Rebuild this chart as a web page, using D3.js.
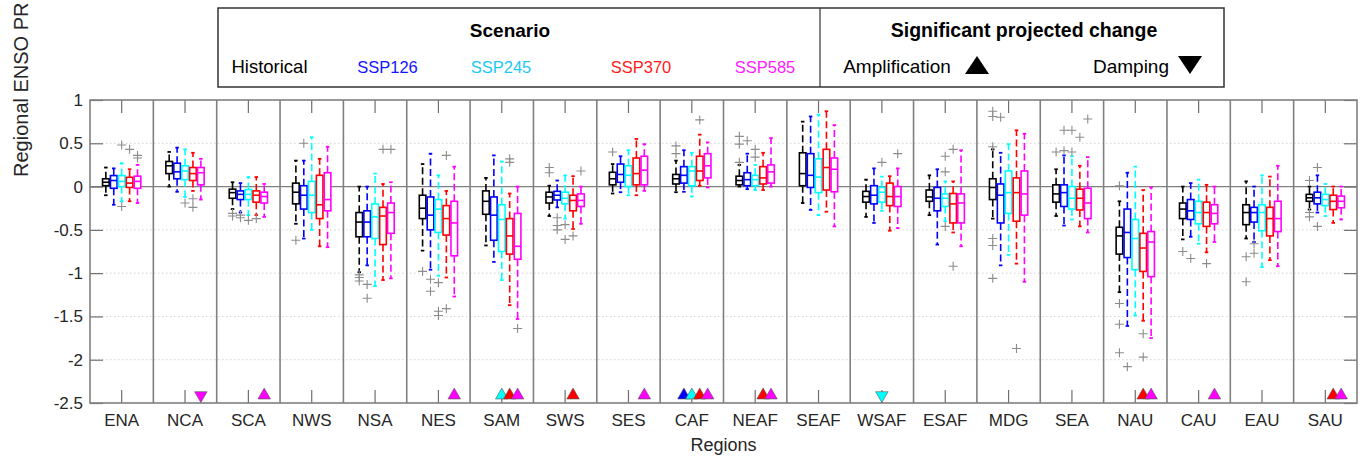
<!DOCTYPE html>
<html><head><meta charset="utf-8">
<script src="https://cdn.jsdelivr.net/npm/d3@7"></script>
<style>
html,body{margin:0;padding:0;background:#fff;}
svg{display:block;font-family:"Liberation Sans",Arial,sans-serif;}
</style></head>
<body><svg id="c" width="1364" height="459"></svg>
<script>
const regions = ["ENA","NCA","SCA","NWS","NSA","NES","SAM","SWS","SES","CAF","NEAF","SEAF","WSAF","ESAF","MDG","SEA","NAU","CAU","EAU","SAU"];
const scenarios = ["Historical","SSP126","SSP245","SSP370","SSP585"];
const boxColors = ["#000000","#0000ff","#00ffff","#ff0000","#ff00ff"];
const legendColors = ["#000000","#1414ff","#1ec8f5","#ff1a1a","#ff1aff"];
const yTicks = [1,0.5,0,-0.5,-1,-1.5,-2,-2.5];

// [lower whisker, q1, median, q3, upper whisker] per region
const histStats = [[-0.10,0.01,0.05,0.09,0.22],[0.0,0.15,0.24,0.29,0.40],[-0.26,-0.135,-0.07,-0.03,0.05],[-0.43,-0.20,-0.065,0.04,0.30],[-0.99,-0.58,-0.41,-0.30,0.0],[-0.74,-0.37,-0.25,-0.10,0.26],[-0.68,-0.32,-0.17,-0.05,0.10],[-0.34,-0.19,-0.12,-0.065,0.01],[-0.08,0.02,0.09,0.165,0.26],[-0.065,0.03,0.09,0.14,0.30],[0.0,0.02,0.07,0.12,0.25],[-0.19,0.01,0.15,0.39,0.75],[-0.35,-0.18,-0.115,-0.055,0.08],[-0.33,-0.17,-0.12,-0.04,0.13],[-0.37,-0.15,-0.01,0.09,0.43],[-0.34,-0.18,-0.085,0.02,0.20],[-1.22,-0.78,-0.57,-0.47,-0.17],[-0.61,-0.37,-0.26,-0.19,0.0],[-0.60,-0.44,-0.30,-0.21,0.06],[-0.265,-0.17,-0.13,-0.09,0.0]];
const ssp126Stats = [[-0.21,-0.02,0.07,0.127,0.21],[-0.06,0.09,0.17,0.27,0.45],[-0.30,-0.15,-0.09,-0.05,0.04],[-0.60,-0.26,-0.10,0.01,0.30],[-0.91,-0.58,-0.41,-0.28,0.0],[-0.96,-0.50,-0.33,-0.12,0.38],[-0.87,-0.62,-0.33,-0.12,0.36],[-0.24,-0.155,-0.10,-0.055,0.07],[-0.065,0.05,0.14,0.26,0.35],[-0.06,0.04,0.13,0.23,0.42],[-0.03,0.01,0.08,0.16,0.38],[-0.27,-0.01,0.13,0.38,0.81],[-0.42,-0.20,-0.10,0.01,0.21],[-0.67,-0.28,-0.135,-0.01,0.20],[-0.91,-0.42,-0.10,0.03,0.39],[-0.45,-0.23,-0.07,0.02,0.36],[-1.61,-0.82,-0.53,-0.26,0.16],[-0.58,-0.38,-0.28,-0.15,0.04],[-0.64,-0.41,-0.30,-0.24,0.0],[-0.30,-0.20,-0.13,-0.065,0.13]];
const ssp245Stats = [[-0.17,0.0,0.06,0.127,0.27],[-0.12,0.08,0.18,0.24,0.43],[-0.33,-0.15,-0.09,-0.035,0.11],[-0.50,-0.30,-0.10,0.06,0.57],[-1.15,-0.60,-0.35,-0.20,0.15],[-1.03,-0.53,-0.26,-0.15,0.13],[-1.08,-0.75,-0.38,-0.21,0.29],[-0.37,-0.20,-0.135,-0.065,0.13],[-0.10,0.0,0.13,0.24,0.42],[-0.115,0.01,0.18,0.23,0.39],[-0.04,0.01,0.08,0.13,0.25],[-0.33,-0.07,0.11,0.32,0.83],[-0.28,-0.18,-0.065,-0.01,0.115],[-0.40,-0.23,-0.135,-0.085,0.06],[-0.79,-0.31,-0.07,0.18,0.49],[-0.38,-0.26,-0.135,0.0,0.35],[-1.49,-0.96,-0.60,-0.38,0.23],[-0.66,-0.43,-0.30,-0.17,0.08],[-0.93,-0.51,-0.30,-0.21,0.13],[-0.34,-0.22,-0.15,-0.09,0.03]];
const ssp370Stats = [[-0.17,-0.01,0.04,0.107,0.20],[-0.05,0.07,0.15,0.22,0.39],[-0.33,-0.18,-0.10,-0.05,0.11],[-0.69,-0.37,-0.21,0.13,0.32],[-1.08,-0.67,-0.34,-0.24,0.03],[-1.05,-0.56,-0.37,-0.22,-0.05],[-1.37,-0.78,-0.57,-0.37,-0.08],[-0.49,-0.28,-0.16,-0.10,0.12],[-0.10,0.02,0.15,0.33,0.55],[0.01,0.07,0.18,0.35,0.60],[-0.04,0.03,0.10,0.23,0.39],[-0.29,-0.04,0.22,0.43,0.87],[-0.51,-0.22,-0.115,0.04,0.12],[-0.53,-0.42,-0.20,-0.08,0.06],[-0.89,-0.40,-0.07,0.10,0.65],[-0.46,-0.27,-0.135,-0.03,0.24],[-1.55,-0.98,-0.71,-0.54,-0.04],[-0.76,-0.46,-0.30,-0.18,0.02],[-0.85,-0.57,-0.37,-0.24,0.115],[-0.42,-0.265,-0.17,-0.10,0.0]];
const ssp585Stats = [[-0.19,-0.02,0.06,0.12,0.25],[-0.15,0.02,0.16,0.22,0.32],[-0.35,-0.19,-0.115,-0.065,0.03],[-0.70,-0.28,-0.15,0.16,0.46],[-1.06,-0.54,-0.30,-0.19,0.05],[-1.27,-0.80,-0.42,-0.17,0.23],[-1.53,-0.84,-0.69,-0.31,0.0],[-0.43,-0.23,-0.16,-0.085,0.0],[-0.05,0.02,0.19,0.35,0.49],[-0.01,0.10,0.24,0.38,0.51],[0.0,0.04,0.17,0.25,0.56],[-0.46,-0.06,0.20,0.33,0.71],[-0.48,-0.23,-0.115,0.0,0.21],[-0.69,-0.42,-0.19,-0.085,0.42],[-1.10,-0.33,-0.085,0.18,0.61],[-0.53,-0.37,-0.19,-0.02,0.34],[-1.75,-1.04,-0.64,-0.52,-0.01],[-0.64,-0.43,-0.31,-0.21,0.0],[-0.92,-0.52,-0.37,-0.17,0.24],[-0.38,-0.245,-0.17,-0.11,0.0]];

// outliers: [region, value]
const histOut = [["SCA",-0.31],["SCA",-0.34],["NWS",-0.62],["NSA",-1.02],["NSA",-1.05],["NSA",-1.09],["NES",-0.98],["SWS",0.22],["SWS",0.16],["SES",0.40],["CAF",0.47],["CAF",0.38],["NEAF",0.58],["NEAF",0.49],["NEAF",0.28],["MDG",0.87],["MDG",0.81],["MDG",0.46],["MDG",-0.60],["MDG",-0.68],["MDG",-1.06],["SEA",0.40],["NAU",0.01],["NAU",-1.35],["NAU",-1.59],["NAU",-1.92],["CAU",-0.75],["EAU",-0.81],["EAU",-1.10],["SAU",0.07],["SAU",-0.30],["SAU",-0.35]];
const ssp126Out = [["SCA",-0.33],["SCA",-0.36],["NWS",0.50],["NSA",-1.13],["NSA",-1.29],["NES",-1.07],["NES",-1.21],["SWS",-0.36],["SWS",-0.45],["SWS",-0.50],["NEAF",0.53],["MDG",0.80],["SEA",0.65],["SEA",0.415],["NAU",-2.08],["CAU",-0.83],["EAU",-0.66],["EAU",-0.77],["SAU",0.22],["SAU",-0.46]];
const ssp245Out = [["ENA",0.48],["ENA",-0.23],["NCA",-0.19],["SCA",-0.39],["NES",-1.11],["NES",-1.44],["NES",-1.49],["SWS",-0.44],["SWS",-0.61],["NEAF",0.43],["NEAF",0.34],["WSAF",0.28],["ESAF",0.35],["ESAF",0.17],["ESAF",-0.46],["SEA",0.65],["SEA",0.40]];
const ssp370Out = [["ENA",0.43],["NCA",-0.14],["NCA",-0.24],["SCA",-0.37],["NSA",0.43],["NES",-1.41],["NES",0.36],["SAM",0.32],["SAM",0.28],["SWS",-0.57],["CAF",0.77],["ESAF",0.43],["ESAF",-0.92],["MDG",-1.87],["SEA",0.57],["NAU",-1.70],["NAU",-1.97],["CAU",-0.89]];
const ssp585Out = [["ENA",0.36],["ENA",0.33],["NSA",0.43],["SAM",-1.64],["SWS",0.18],["WSAF",0.38],["SEA",0.78]];

// significant projected change markers: [region, scenario]
const ampMarks = [["SCA","SSP585"],["NES","SSP585"],["SAM","SSP245"],["SAM","SSP370"],["SAM","SSP585"],["SWS","SSP370"],["SES","SSP585"],["CAF","SSP126"],["CAF","SSP245"],["CAF","SSP370"],["CAF","SSP585"],["NEAF","SSP370"],["NEAF","SSP585"],["NAU","SSP370"],["NAU","SSP585"],["CAU","SSP585"],["SAU","SSP370"],["SAU","SSP585"]];
const dampMarks = [["NCA","SSP585"],["WSAF","SSP245"]];
const markerLevel = -2.4;

const allStats = [histStats, ssp126Stats, ssp245Stats, ssp370Stats, ssp585Stats];
const allOut = [histOut, ssp126Out, ssp245Out, ssp370Out, ssp585Out];

const svg = d3.select("#c");
const L = 90, R = 1357, T = 100, B = 403;
const x = d3.scaleBand().domain(regions).range([L, R]);
const bw = x.bandwidth();
const xs = d3.scalePoint().domain(scenarios).range([bw/2 - bw/4, bw/2 + bw/4]);
const y = d3.scaleLinear().domain([-2.5, 1]).range([B, T]);
const boxW = 6.6, capW = 3.5;
const gray = "#808080";

// grid
svg.append("g").selectAll("line").data(yTicks.filter(v => v !== 0 && v !== 1 && v !== -2.5)).join("line")
  .attr("x1", L).attr("x2", R).attr("y1", d => y(d)).attr("y2", d => y(d))
  .attr("stroke", "#d4d4d4").attr("stroke-width", 1).attr("stroke-dasharray", "1.5,2.5");
svg.append("line").attr("x1", L).attr("x2", R).attr("y1", y(0)).attr("y2", y(0))
  .attr("stroke", gray).attr("stroke-width", 1.2);

// panel dividers
svg.append("g").selectAll("line").data(regions.slice(1)).join("line")
  .attr("x1", d => x(d)).attr("x2", d => x(d)).attr("y1", T).attr("y2", B)
  .attr("stroke", gray).attr("stroke-width", 1.6);

// axes
const fmt = d => String(d);
const axL = svg.append("g").attr("transform", `translate(${L},0)`)
  .call(d3.axisLeft(y).tickValues(yTicks).tickSize(-13).tickPadding(7).tickFormat(fmt));
const axR = svg.append("g").attr("transform", `translate(${R},0)`)
  .call(d3.axisRight(y).tickValues(yTicks).tickSize(-13).tickFormat(""));
const axB = svg.append("g").attr("transform", `translate(0,${B})`)
  .call(d3.axisBottom(x).tickSize(-13).tickPadding(11));
const axT = svg.append("g").attr("transform", `translate(0,${T})`)
  .call(d3.axisTop(x).tickSize(-13).tickFormat(""));
[axL, axR, axB, axT].forEach(a => {
  a.select(".domain").remove();
  a.selectAll(".tick line").attr("stroke", "#6e6e6e").attr("stroke-width", 1.2);
  a.selectAll("text").attr("font-size", 17).attr("fill", "#262626").attr("font-family", "Liberation Sans, Arial, sans-serif");
});
svg.append("rect").attr("x", L).attr("y", T).attr("width", R - L).attr("height", B - T)
  .attr("fill", "none").attr("stroke", gray).attr("stroke-width", 1.6);

// boxes
const plot = svg.append("g");
scenarios.forEach((s, si) => {
  const col = boxColors[si];
  const g = plot.append("g");
  const data = allStats[si].map((st, ri) => ({r: regions[ri], st}));
  const cx = d => x(d.r) + xs(s);
  g.selectAll("line.wu").data(data).join("line").attr("class", "wu")
    .attr("x1", cx).attr("x2", cx).attr("y1", d => y(d.st[3])).attr("y2", d => y(d.st[4]))
    .attr("stroke", col).attr("stroke-width", 1.6).attr("stroke-dasharray", "7,3.5");
  g.selectAll("line.wl").data(data).join("line").attr("class", "wl")
    .attr("x1", cx).attr("x2", cx).attr("y1", d => y(d.st[1])).attr("y2", d => y(d.st[0]))
    .attr("stroke", col).attr("stroke-width", 1.6).attr("stroke-dasharray", "7,3.5");
  [0, 4].forEach(k => {
    g.selectAll("line.c" + k).data(data).join("line").attr("class", "c" + k)
      .attr("x1", d => cx(d) - capW/2).attr("x2", d => cx(d) + capW/2)
      .attr("y1", d => y(d.st[k])).attr("y2", d => y(d.st[k]))
      .attr("stroke", col).attr("stroke-width", 1.8);
  });
  g.selectAll("rect").data(data).join("rect")
    .attr("x", d => cx(d) - boxW/2).attr("width", boxW)
    .attr("y", d => y(d.st[3])).attr("height", d => y(d.st[1]) - y(d.st[3]))
    .attr("fill", "#fff").attr("stroke", col).attr("stroke-width", 1.6);
  g.selectAll("line.m").data(data).join("line").attr("class", "m")
    .attr("x1", d => cx(d) - boxW/2).attr("x2", d => cx(d) + boxW/2)
    .attr("y1", d => y(d.st[2])).attr("y2", d => y(d.st[2]))
    .attr("stroke", col).attr("stroke-width", 1.6);
  const od = allOut[si];
  const ox = d => x(d[0]) + xs(s);
  g.selectAll("path.o").data(od).join("path").attr("class", "o")
    .attr("d", d => `M${ox(d) - 4.5},${y(d[1])}h9M${ox(d)},${y(d[1]) - 4.5}v9`)
    .attr("stroke", "#8c8c8c").attr("stroke-width", 1.1).attr("fill", "none");
});

// significance markers
const sym = d3.symbol().type(d3.symbolTriangle).size(68);
const mk = svg.append("g");
mk.selectAll("path.a").data(ampMarks).join("path").attr("class", "a")
  .attr("d", sym)
  .attr("transform", d => `translate(${x(d[0]) + xs(d[1])},${y(markerLevel) + 1})`)
  .attr("fill", d => boxColors[scenarios.indexOf(d[1])]).attr("stroke", "#555").attr("stroke-width", 0.6);
mk.selectAll("path.d").data(dampMarks).join("path").attr("class", "d")
  .attr("d", sym)
  .attr("transform", d => `translate(${x(d[0]) + xs(d[1])},${y(markerLevel) + 1}) rotate(180)`)
  .attr("fill", d => boxColors[scenarios.indexOf(d[1])]).attr("stroke", "#555").attr("stroke-width", 0.6);

// axis titles
svg.append("text").attr("x", (L + R) / 2).attr("y", 451).attr("text-anchor", "middle")
  .attr("font-size", 18).attr("fill", "#262626").text("Regions");
svg.append("text").attr("transform", "translate(27.5,177) rotate(-90)").attr("text-anchor", "start")
  .attr("font-size", 20).attr("fill", "#262626").text("Regional ENSO PR");

// legend
const lg = svg.append("g");
lg.append("rect").attr("x", 218).attr("y", 8).attr("width", 1006).attr("height", 79)
  .attr("fill", "#fff").attr("stroke", "#333").attr("stroke-width", 1.5);
lg.append("line").attr("x1", 820).attr("x2", 820).attr("y1", 8).attr("y2", 87)
  .attr("stroke", "#333").attr("stroke-width", 1.2);
lg.append("text").attr("x", 510).attr("y", 37).attr("text-anchor", "middle")
  .attr("font-size", 19).attr("font-weight", "bold").text("Scenario");
lg.append("text").attr("x", 1024).attr("y", 37).attr("text-anchor", "middle")
  .attr("font-size", 19.5).attr("font-weight", "bold").text("Significant projected change");
const legCx = [269.5, 387.5, 501, 641, 765];
const legSize = [18.5, 16.5, 16.5, 16.5, 16.5];
lg.selectAll("text.s").data(scenarios).join("text").attr("class", "s")
  .attr("x", (d, i) => legCx[i]).attr("y", 73).attr("text-anchor", "middle")
  .attr("font-size", (d, i) => legSize[i]).attr("fill", (d, i) => legendColors[i]).text(d => d);
lg.append("text").attr("x", 897).attr("y", 73).attr("text-anchor", "middle").attr("font-size", 19).text("Amplification");
lg.append("text").attr("x", 1131).attr("y", 73).attr("text-anchor", "middle").attr("font-size", 19).text("Damping");
lg.append("path").attr("d", "M965,74L977,56L989,74Z").attr("fill", "#000");
lg.append("path").attr("d", "M1178,56L1190,74L1202,56Z").attr("fill", "#000");
</script></body></html>
